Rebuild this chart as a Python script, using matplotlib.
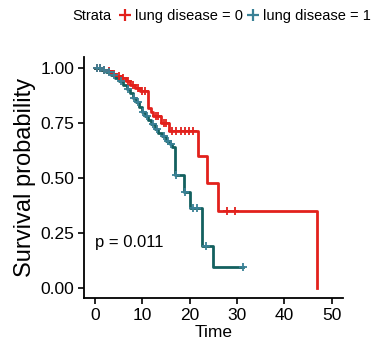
import numpy as np
import matplotlib
matplotlib.use("Agg")
import matplotlib.pyplot as plt
from matplotlib.lines import Line2D

plt.rcParams['font.family'] = ['Liberation Sans', 'DejaVu Sans']

# group 0: lung disease = 0 (event times and survival after each drop)
t0 = [0, 1.5, 2.5, 3.5, 4.5, 5.5, 6.5, 7.5, 8.5, 9.5, 11.2, 11.9, 12.3, 13.9, 15.6, 21.8, 23.7, 26.0, 46.8]
s0 = [1.0, 0.99, 0.985, 0.975, 0.965, 0.955, 0.94, 0.925, 0.91, 0.895, 0.82, 0.80, 0.78, 0.75, 0.712, 0.598, 0.479, 0.352, 0.0]
c0 = [0.5, 1.0, 2.0, 3.0, 4.0, 5.0, 6.0, 7.0, 8.0, 9.0, 10.0, 10.5, 12.8, 13.3, 14.5, 15.0,
      16.3, 17.2, 18.1, 19.1, 19.9, 20.6, 27.9, 29.5]

# group 1: lung disease = 1
t1 = [0, 1.2, 2.4, 3.3, 4.3, 5.0, 6.0, 6.8, 7.5, 8.1, 8.6, 9.3, 9.9, 10.6, 11.3, 11.9, 12.6, 13.4,
      14.2, 15.0, 15.8, 16.3, 16.8, 18.7, 20.0, 22.7, 24.9, 31.2]
s1 = [1.0, 0.99, 0.98, 0.97, 0.955, 0.94, 0.925, 0.905, 0.885, 0.865, 0.845, 0.825, 0.80, 0.78, 0.765,
      0.745, 0.725, 0.705, 0.69, 0.67, 0.655, 0.64, 0.516, 0.438, 0.365, 0.192, 0.096, 0.096]
c1 = [0.5, 1.0, 2.0, 3.0, 4.0, 5.5, 7.0, 8.3, 9.0, 10.2, 11.0, 12.2, 13.0, 14.5, 15.5, 16.0,
      17.1, 19.1, 20.8, 21.6, 23.4, 31.2]

red = '#E2211C'
teal = '#13605F'
teal_mark = '#3A8196'


def surv_at(times, surv, c):
    idx = np.searchsorted(times, c, side='right') - 1
    return np.array(surv)[idx]


fig = plt.figure(figsize=(3.77, 3.48), dpi=100)
ax = fig.add_axes([0.223, 0.144, 0.687, 0.692])

ax.plot(t0, s0, drawstyle='steps-post', color=red, lw=2)
ax.plot(t1, s1, drawstyle='steps-post', color=teal, lw=2)
ax.plot(c0, surv_at(t0, s0, c0), '+', color=red, ms=5.5, mew=1.3)
ax.plot(c1, surv_at(t1, s1, c1), '+', color=teal_mark, ms=5.5, mew=1.3)

ax.text(0, 0.205, 'p = 0.011', fontsize=12, va='center', ha='left')

ax.set_xlim(-2.3, 52.4)
ax.set_ylim(-0.045, 1.05)
ax.set_xticks([0, 10, 20, 30, 40, 50])
ax.set_yticks([0, 0.25, 0.5, 0.75, 1.0])
ax.set_yticklabels(['0.00', '0.25', '0.50', '0.75', '1.00'])
ax.tick_params(labelsize=12.5, length=4, width=1.2, colors='black', pad=3)
for side in ['top', 'right']:
    ax.spines[side].set_visible(False)
for side in ['left', 'bottom']:
    ax.spines[side].set_linewidth(1.3)
ax.set_xlabel('Time', fontsize=12.5, labelpad=2)
ax.set_ylabel('Survival probability', fontsize=17, labelpad=3)

handles = [Line2D([], [], color=red, marker='+', ls='none', ms=8, mew=1.6),
           Line2D([], [], color=teal_mark, marker='+', ls='none', ms=8, mew=1.6)]
fig.text(0.193, 0.954, 'Strata', fontsize=10.5, va='center')
fig.legend(handles, ['lung disease = 0', 'lung disease = 1'], ncol=2, frameon=False,
           fontsize=10.5, loc='center left', bbox_to_anchor=(0.315, 0.954),
           handlelength=0.8, handletextpad=0.3, columnspacing=0.3, borderpad=0, borderaxespad=0)

fig.savefig('out.png', dpi=100)
